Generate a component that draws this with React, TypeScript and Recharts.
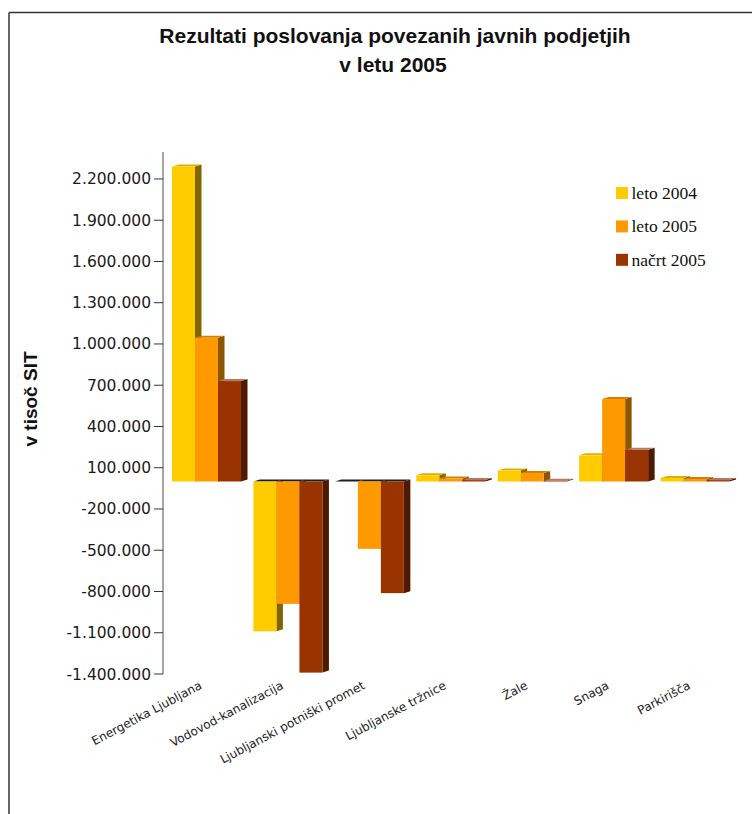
import { BarChart, Bar, XAxis, YAxis, Legend } from 'recharts'

// podjetja in vrednosti (v tisoč SIT), odčitano s slike
const categories = [
    'Energetika Ljubljana',
    'Vodovod-kanalizacija',
    'Ljubljanski potniški promet',
    'Ljubljanske tržnice',
    'Žale',
    'Snaga',
    'Parkirišča',
]
const leto2004 = [2290000, -1090000, 0, 45000, 79000, 190000, 25000]
const leto2005 = [1045000, -890000, -490000, 21000, 62000, 600000, 18000]
const nacrt2005 = [730000, -1390000, -812000, 10000, 5000, 230000, 10000]

const yTicks = [-1400000, -1100000, -800000, -500000, -200000, 100000, 400000, 700000, 1000000, 1300000, 1600000, 1900000, 2200000]

const series = [
    { key: 'l2004', name: 'leto 2004', color: '#FFCC00', side: '#806600', top: '#DDB000' },
    { key: 'l2005', name: 'leto 2005', color: '#FF9900', side: '#8A5700', top: '#D08000' },
    { key: 'n2005', name: 'načrt 2005', color: '#993300', side: '#4D1A00', top: '#B8785E' },
]

const data = categories.map((name, i) => ({
    name,
    l2004: leto2004[i],
    l2005: leto2005[i],
    n2005: nacrt2005[i],
}))

const fmt = (v: number) =>
    (v < 0 ? '-' : '') + Math.abs(v).toString().replace(/\B(?=(\d{3})+(?!\d))/g, '.')

const DX = 6.5
const DY = 2

function Bar3D(props: any) {
    const { x, y, width, height, payload, s } = props
    if (x == null || y == null) return null
    const top = Math.min(y, y + height)
    const h = Math.abs(height)
    const neg = payload[s.key] <= 0
    const r = x + width
    return (
        <g>
            <polygon
                points={`${r},${top} ${r + DX},${top - DY} ${r + DX},${top + h - DY} ${r},${top + h}`}
                fill={s.side}
            />
            <polygon
                points={`${x},${top} ${x + DX},${top - DY} ${r + DX},${top - DY} ${r},${top}`}
                fill={neg ? '#1e1e1e' : s.top}
            />
            <rect x={x} y={top} width={width} height={h} fill={s.color} />
        </g>
    )
}

function CatTick(props: any) {
    const { x, y, payload } = props
    return (
        <text
            x={x - 4}
            y={y}
            textAnchor="end"
            transform={`rotate(-28, ${x - 4}, ${y})`}
            fontFamily="DejaVu Sans, sans-serif"
            fontSize={12}
            fill="#222"
        >
            {payload.value}
        </text>
    )
}

const renderLegend = ({ payload }: any) => (
    <svg width={130} height={80} style={{ overflow: 'visible' }}>
        {(payload || []).map((item: any, i: number) => (
            <g key={item.value}>
                <rect x={0} y={i * 33.4} width={12} height={12} fill={item.color} />
                <text
                    x={15.5}
                    y={i * 33.4 + 12}
                    fontFamily="Liberation Serif, Times New Roman, serif"
                    fontSize={17.5}
                    fill="#111"
                >
                    {item.value}
                </text>
            </g>
        ))}
    </svg>
)

export default function App() {
    return (
        <div style={{ position: 'absolute', left: 0, top: 0, width: 752, height: 814, background: '#fff' }}>
            <BarChart
                width={752}
                height={814}
                data={data}
                margin={{ top: 152, right: 16, left: 63, bottom: 80 }}
                barGap={0}
                barSize={23}
            >
                <XAxis
                    dataKey="name"
                    axisLine={false}
                    tickLine={false}
                    interval={0}
                    height={60}
                    tickMargin={8}
                    padding={{ left: 3, right: 0 }}
                    tick={(p: any) => <CatTick {...p} />}
                />
                <YAxis
                    width={100}
                    domain={[-1400000, 2396000]}
                    ticks={yTicks}
                    tickFormatter={fmt}
                    allowDataOverflow
                    axisLine={{ stroke: '#888', strokeWidth: 1.5 }}
                    tickLine={{ stroke: '#333' }}
                    tickSize={9}
                    tickMargin={3}
                    tick={{ fontFamily: 'DejaVu Sans, sans-serif', fontSize: 15.5, fill: '#1a1a1a' }}
                />
                <Legend
                    layout="vertical"
                    align="center"
                    verticalAlign="middle"
                    content={renderLegend}
                    wrapperStyle={{ position: 'absolute', left: 616, top: 187, width: 130, height: 80 }}
                />
                {series.map((s) => (
                    <Bar
                        key={s.key}
                        dataKey={s.key}
                        name={s.name}
                        fill={s.color}
                        isAnimationActive={false}
                        shape={(p: any) => <Bar3D {...p} s={s} />}
                    />
                ))}
            </BarChart>
            <svg
                width={752}
                height={814}
                style={{ position: 'absolute', left: 0, top: 0, pointerEvents: 'none' }}
            >
                <line x1={9} y1={12.5} x2={752} y2={12.5} stroke="#333" strokeWidth={1.5} />
                <line x1={9} y1={12.5} x2={9} y2={814} stroke="#333" strokeWidth={1.5} />
                <text
                    x={395}
                    y={43}
                    textAnchor="middle"
                    fontFamily="Liberation Sans, Arial, sans-serif"
                    fontWeight="bold"
                    fontSize={21}
                    fill="#111"
                >
                    Rezultati poslovanja povezanih javnih podjetjih
                </text>
                <text
                    x={393}
                    y={72}
                    textAnchor="middle"
                    fontFamily="Liberation Sans, Arial, sans-serif"
                    fontWeight="bold"
                    fontSize={21}
                    fill="#111"
                >
                    v letu 2005
                </text>
                <text
                    x={37}
                    y={399}
                    textAnchor="middle"
                    transform="rotate(-90, 37, 399)"
                    fontFamily="Liberation Sans, Arial, sans-serif"
                    fontWeight="bold"
                    fontSize={19}
                    fill="#111"
                >
                    v tisoč SIT
                </text>
            </svg>
        </div>
    )
}
